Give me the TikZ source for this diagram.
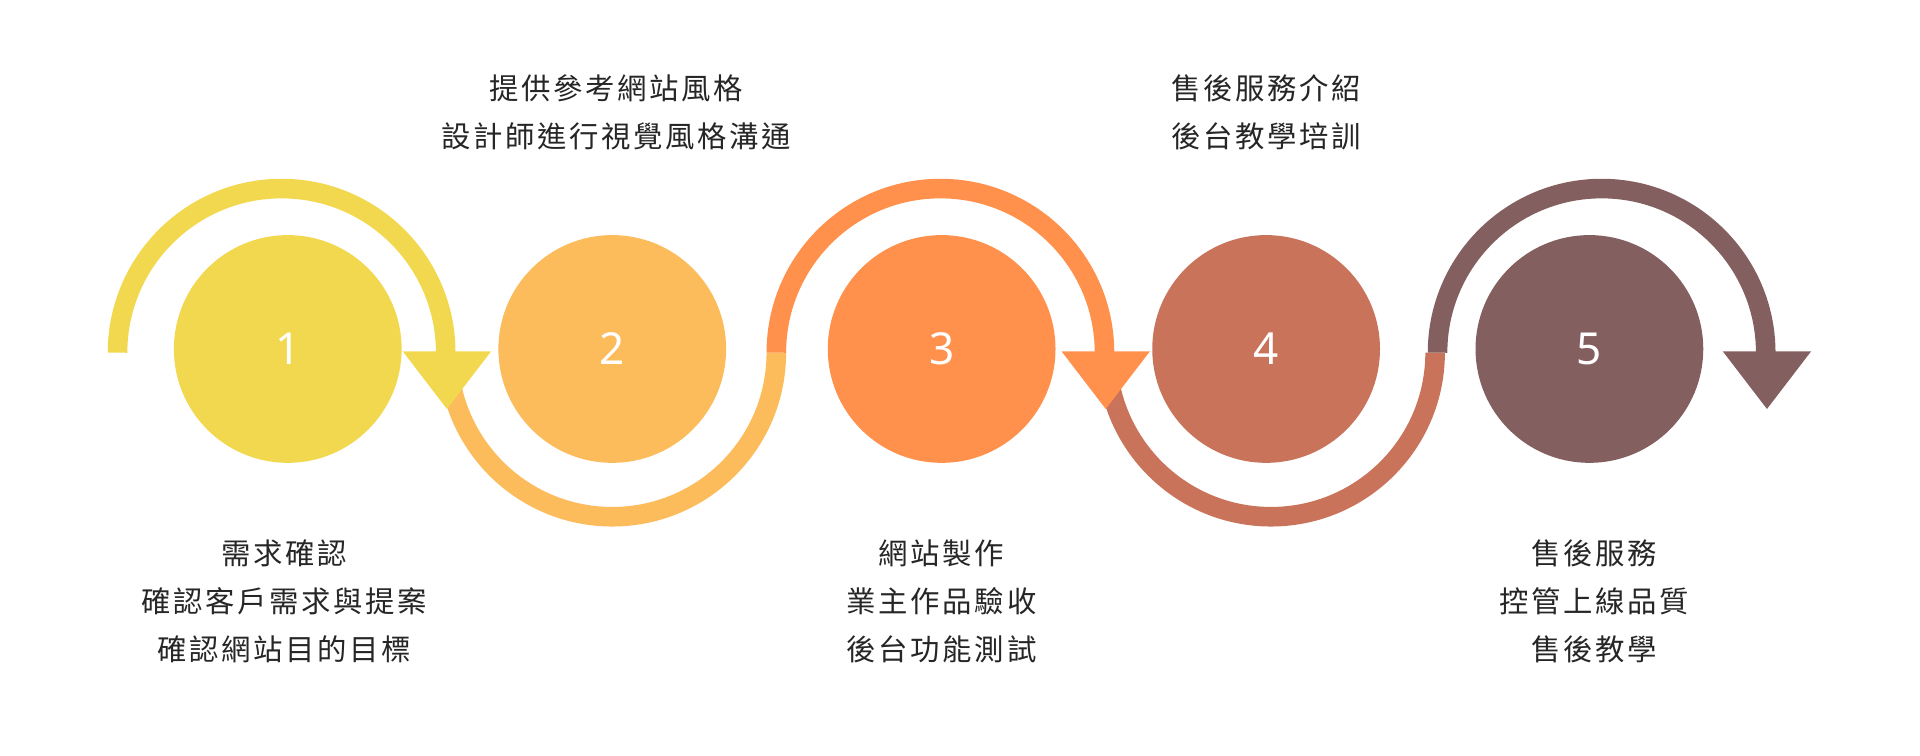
\documentclass[tikz,border=0pt]{standalone}
\usepackage{fontspec}
\newfontfamily\cjk[LetterSpace=9]{Noto Sans CJK TC}
\newfontfamily\num{Noto Sans}
\begin{document}
\begin{tikzpicture}[x=1pt,y=-1pt,
  circ/.style={circle,minimum size=186pt,inner sep=0pt,text=white,font=\num\fontsize{36}{36}\selectfont},
  ring/.style={line width=16pt},
  lab/.style={align=center,font=\cjk\fontsize{24}{39}\selectfont,text=black!85}]
\useasboundingbox (0,0) rectangle (1568,617);
\definecolor{c1}{HTML}{F2D84E}\definecolor{c2}{HTML}{FCBC5C}\definecolor{c3}{HTML}{FF914D}
\definecolor{c4}{HTML}{C8735A}\definecolor{c5}{HTML}{845F5F}
% arcs
\draw[ring,c2] (366,288) arc[start angle=180,end angle=0,radius=134];
\draw[ring,c4] (904,288) arc[start angle=180,end angle=0,radius=134];
\draw[ring,c1] (96,288) arc[start angle=180,end angle=360,radius=134];
\draw[ring,c3] (634,288) arc[start angle=180,end angle=360,radius=134];
\draw[ring,c5] (1174,288) arc[start angle=180,end angle=360,radius=134];
\fill[c1] (329,287) coordinate(a1) -- (401,287) -- (365,334) -- cycle;
\fill[c3] (867,287) coordinate(a3) -- (939,287) -- (903,334) -- cycle;
\fill[c5] (1407,287) coordinate(a5) -- (1479,287) -- (1443,334) -- cycle;
% circles
\node[circ,fill=c1] (n1) at (235,285) {1};
\node[circ,fill=c2] (n2) at (500,285) {2};
\node[circ,fill=c3] (n3) at (769,285) {3};
\node[circ,fill=c4] (n4) at (1034,285) {4};
\node[circ,fill=c5] (n5) at (1298,285) {5};
% labels
\node[lab] (t2) at (503,92) {提供參考網站風格\\設計師進行視覺風格溝通};
\node[lab] (t4) at (1034,92) {售後服務介紹\\後台教學培訓};
\node[lab] (t1) at (232,491) {需求確認\\確認客戶需求與提案\\確認網站目的目標};
\node[lab] (t3) at (769,491) {網站製作\\業主作品驗收\\後台功能測試};
\node[lab] (t5) at (1302,491) {售後服務\\控管上線品質\\售後教學};
\end{tikzpicture}
\end{document}
